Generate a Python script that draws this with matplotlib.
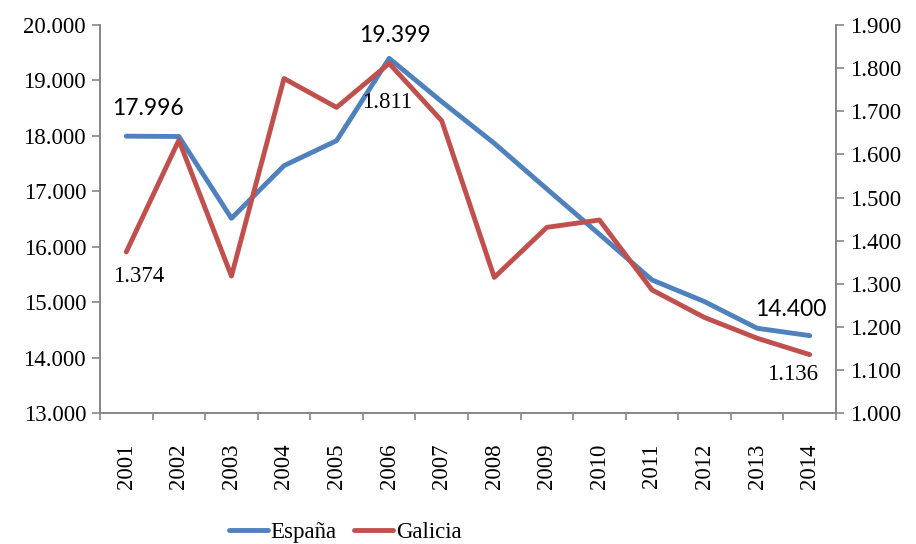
import matplotlib
matplotlib.use("Agg")
import matplotlib.pyplot as plt
from matplotlib.ticker import FuncFormatter, FixedLocator
from matplotlib.lines import Line2D

years = ["2001", "2002", "2003", "2004", "2005", "2006", "2007",
         "2008", "2009", "2010", "2011", "2012", "2013", "2014"]
espana = [17996, 17990, 16515, 17464, 17915, 19399, 18618,
          17867, 17044, 16227, 15404, 15013, 14533, 14400]
galicia = [1374, 1633, 1318, 1776, 1709, 1811, 1678,
           1315, 1431, 1448, 1286, 1222, 1174, 1136]
left_ticks = [13000, 14000, 15000, 16000, 17000, 18000, 19000, 20000]
right_ticks = [1000, 1100, 1200, 1300, 1400, 1500, 1600, 1700, 1800, 1900]

BLUE = "#4F81BD"
RED = "#C0504D"
GRAY = "#868686"
SERIF = "Liberation Serif"
SANS = "Lato"
FS = 16.5

plt.rcParams["font.family"] = "serif"
plt.rcParams["font.serif"] = [SERIF, "DejaVu Serif"]
plt.rcParams["font.size"] = FS


def fmt(v, pos=None):
    return f"{v:,.0f}".replace(",", ".")


fig = plt.figure(figsize=(9.16, 5.44), dpi=100)
ax = fig.add_axes([100 / 916, 1 - 413.3 / 544, 736 / 916, 388.3 / 544])
ax2 = ax.twinx()

x = list(range(len(years)))
ax.plot(x, espana, color=BLUE, lw=3.5, solid_capstyle="round", zorder=3)
ax2.plot(x, galicia, color=RED, lw=3.5, solid_capstyle="round", zorder=3)

ax.set_xlim(-0.5, len(years) - 0.5)
ax.set_ylim(13000, 20000)
ax2.set_ylim(1000, 1900)

ax.yaxis.set_major_locator(FixedLocator(left_ticks))
ax2.yaxis.set_major_locator(FixedLocator(right_ticks))
ax.yaxis.set_major_formatter(FuncFormatter(fmt))
ax2.yaxis.set_major_formatter(FuncFormatter(fmt))

# category boundaries as major ticks, labels at minor (centers)
ax.xaxis.set_major_locator(FixedLocator([i - 0.5 for i in range(len(years) + 1)]))
ax.xaxis.set_major_formatter(FuncFormatter(lambda v, p: ""))
ax.set_xticks(x, minor=True)
ax.set_xticklabels(years, minor=True, rotation=90, fontsize=FS, fontfamily=SERIF)
ax.tick_params(axis="x", which="minor", length=0, pad=22, labelsize=FS)
ax.tick_params(axis="x", which="major", length=5, color=GRAY, width=1.2, direction="out")

ax.tick_params(axis="y", length=6, color=GRAY, width=1.2, direction="out", pad=4, labelsize=FS)
ax2.tick_params(axis="y", length=6, color=GRAY, width=1.2, direction="out", pad=4, labelsize=FS)

for a in (ax, ax2):
    a.spines["top"].set_visible(False)
    for s in a.spines.values():
        s.set_color(GRAY)
        s.set_linewidth(1.2)
    a.patch.set_visible(False)

fig.canvas.draw()
for a in (ax, ax2):
    for t in a.get_yticklabels() + a.get_xticklabels(minor=True):
        t.set_fontfamily(SERIF)


def lab(a, i, v, dx, dy, family):
    a.annotate(fmt(v), xy=(i, v), xytext=(dx, dy), textcoords="offset pixels",
               ha="center", va="center", fontsize=FS, fontfamily=family, color="black",
               zorder=5)


lab(ax, 0, espana[0], 22, 28, SANS)
lab(ax, 5, espana[5], 6, 23, SANS)
lab(ax, 13, espana[13], -19, 26, SANS)
lab(ax2, 0, galicia[0], 12, -25, SERIF)
lab(ax2, 5, galicia[5], -2, -39, SERIF)
lab(ax2, 13, galicia[13], -17, -20, SERIF)

handles = [Line2D([0], [0], color=BLUE, lw=3.5, solid_capstyle="round"),
           Line2D([0], [0], color=RED, lw=3.5, solid_capstyle="round")]
fig.legend(handles, ["España", "Galicia"], loc="center",
           bbox_to_anchor=(345 / 916, 1 - 532 / 544), ncol=2, frameon=False,
           prop={"family": SERIF, "size": FS}, handlelength=1.7,
           handletextpad=0.1, columnspacing=0.8, borderpad=0.1)

fig.savefig("out.png", dpi=100)
